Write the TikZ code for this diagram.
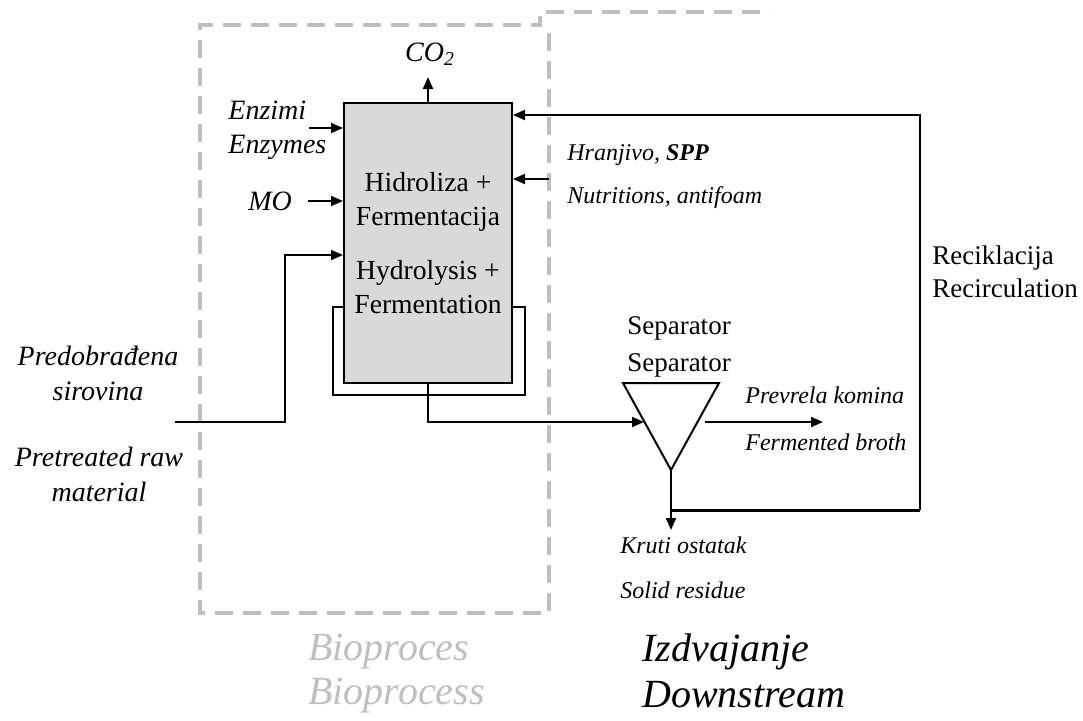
\documentclass[tikz,border=0pt]{standalone}
\usepackage{fontspec}
\setmainfont{Liberation Serif}
\usetikzlibrary{arrows.meta,positioning,calc}
\usepackage{xcolor}
\definecolor{regionGray}{HTML}{BFBFBF}
\definecolor{reactorFill}{HTML}{D9D9D9}

\begin{document}
\begin{tikzpicture}[x=0.5pt,y=-0.5pt,>={Triangle[length=6pt,width=5pt]}]
  \tikzstyle{flow}=[->,line width=1pt]
  \tikzstyle{lbl}=[font=\fontsize{14}{16}\selectfont\itshape,inner sep=0pt,anchor=west]
  \tikzstyle{smalllbl}=[font=\fontsize{12}{14}\selectfont\itshape,inner sep=0pt,anchor=west]
  \tikzstyle{plain}=[font=\fontsize{13.5}{17}\selectfont,inner sep=0pt]
  \tikzstyle{regionbox}=[draw=regionGray,line width=2pt,dash pattern=on 9pt off 5pt]
  \tikzstyle{bigtag}=[font=\fontsize{20}{22}\selectfont\itshape,inner sep=0pt,anchor=west]
  \useasboundingbox (0,0) rectangle (1083,720);

  % bioprocess / downstream regions
  \draw[regionbox] (549,33) -- (549,613) -- (200,613) -- (200,25) -- (540,25) -- (540,12) -- (770,12);

  % reactor
  \node[draw,line width=1pt,fill=reactorFill,minimum width=84pt,minimum height=140pt,inner sep=0pt,
        align=center,font=\fontsize{13.8}{17}\selectfont] (reactor) at (428,243)
        {Hidroliza +\\Fermentacija\\[10pt]Hydrolysis +\\Fermentation};

  % inputs on the left
  \foreach \nm/\x/\y/\txt in {enzimi/228/110/Enzimi,enzymes/228/147/Enzymes,mo/248/201/MO}
    \node[lbl] (\nm) at (\x,\y) {\txt};
  \coordinate (enzin) at (309,128);
  \draw[flow] (enzin) -- (enzin -| reactor.west);
  \draw[flow] ([xshift=8pt]mo.east) -- (mo -| reactor.west);
  \coordinate (feed) at (175,422);
  \coordinate (feedup) at (285,255);
  \draw[flow] (feed) -| (feedup) -- (feedup -| reactor.west);
  \node[font=\fontsize{14}{17.5}\selectfont\itshape,align=center,inner sep=0pt] (predob) at (98,373) {Predobrađena\\sirovina};
  \node[font=\fontsize{14}{17.5}\selectfont\itshape,align=center,inner sep=0pt] (pretreat) at (99,474) {Pretreated raw\\material};

  % CO2
  \draw[flow] (reactor.north) -- ++(0,-25) coordinate (co2tip);
  \node[font=\fontsize{14}{16}\selectfont\itshape,inner sep=0pt] (co2) at (430,54) {CO\textsubscript{2}};

  % mixing loop
  \coordinate (loopL) at (333,307);
  \coordinate (loopR) at (525,307);
  \draw[line width=1pt] (reactor.west |- loopL) -- (loopL) -- ++(0,88) -| (loopR) -- (reactor.east |- loopR);

  % nutrients
  \coordinate (nut) at (549,179);
  \draw[flow] (nut) -- (nut -| reactor.east);
  \node[smalllbl] (hranjivo) at (567,155) {Hranjivo, \textbf{SPP}};
  \node[smalllbl] (nutri) at (567,198) {Nutritions, antifoam};

  % separator
  \coordinate (sepL) at (623,383);
  \coordinate (sepR) at (719,383);
  \coordinate (septip) at (671,470);
  \draw[line width=1pt,line join=miter] (sepL) -- (sepR) -- (septip) -- cycle;
  \node[plain] (sepsr) at (679,328) {Separator};
  \node[plain] (sepen) at (679,365) {Separator};
  \coordinate (sepin) at (644,422);
  \draw[flow] (reactor.south) |- (sepin);

  % fermented broth
  \coordinate (brothA) at (705,422);
  \coordinate (brothB) at (823,422);
  \draw[flow] (brothA) -- (brothB);
  \node[smalllbl] (prevrela) at (745,395) {Prevrela komina};
  \node[smalllbl] (broth) at (745,442) {Fermented broth};

  % solid residue
  \draw[flow] (septip) -- ++(0,60);
  \node[smalllbl] (kruti) at (620,545) {Kruti ostatak};
  \node[smalllbl] (solid) at (620,590) {Solid residue};

  % recirculation
  \coordinate (rec) at (920,510);
  \coordinate (recy) at (920,115);
  \draw[line width=1.5pt] (septip |- rec) -- (rec);
  \draw[flow] (rec) -- (recy) -- (recy -| reactor.east);
  \node[plain,anchor=west] (reciklacija) at (932,258) {Reciklacija};
  \node[plain,anchor=west] (recirc) at (932,288) {Recirculation};

  % region names
  \node[bigtag,text=regionGray] (bioproces) at (308,652) {Bioproces};
  \node[bigtag,text=regionGray] (bioprocess) at (308,695) {Bioprocess};
  \node[bigtag] (izdvajanje) at (642,652) {Izdvajanje};
  \node[bigtag] (downstream) at (642,695) {Downstream};
\end{tikzpicture}
\end{document}
